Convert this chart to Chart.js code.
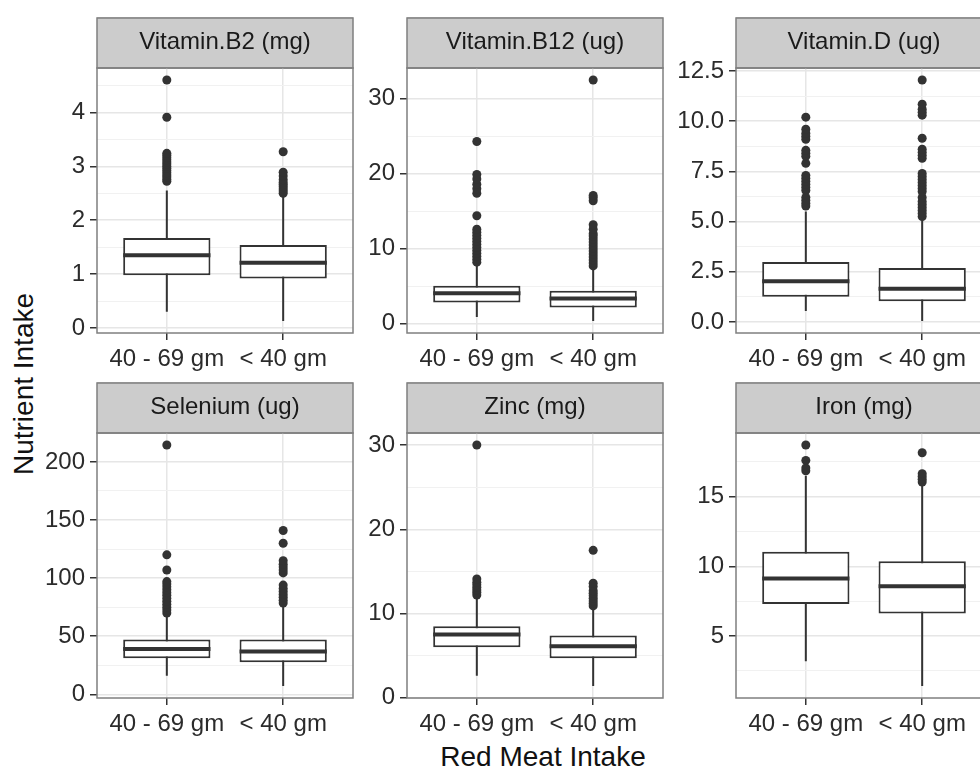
<!DOCTYPE html>
<html>
<head>
<meta charset="utf-8">
<title>Nutrient Intake by Red Meat Intake</title>
<script src="https://cdn.jsdelivr.net/npm/chart.js@4.4.1/dist/chart.umd.min.js"></script>
<style>
  html, body { margin: 0; padding: 0; overflow: hidden; }
  body { width: 980px; height: 767px; position: relative; background: #fff; font-family: "Liberation Sans", Arial, sans-serif; }
  canvas { position: absolute; }
  .axis-title { position: absolute; font-size: 28px; color: #111; white-space: nowrap; line-height: 1; }
  #xTitle { left: 543px; top: 757px; transform: translate(-50%, -50%); }
  #yTitle { left: 24px; top: 384px; transform: translate(-50%, -50%) rotate(-90deg); }
</style>
</head>
<body>
<div id="xTitle" class="axis-title">Red Meat Intake</div>
<div id="yTitle" class="axis-title">Nutrient Intake</div>

<script>
// Kategori sumbu x (sama untuk semua panel)
const groups = ["40 - 69 gm", "< 40 gm"];

// ---- Vitamin.B2 (mg) ----
const b2Low = [0.30, 0.13];
const b2Q1 = [0.98, 0.92];
const b2Median = [1.35, 1.21];
const b2Q3 = [1.67, 1.54];
const b2High = [2.55, 2.45];
const b2OutA = [2.72, 2.76, 2.80, 2.84, 2.88, 2.92, 2.96, 3.00, 3.04, 3.08, 3.12, 3.16, 3.20, 3.24, 3.91, 4.60];
const b2OutB = [2.50, 2.54, 2.58, 2.62, 2.66, 2.70, 2.75, 2.82, 2.89, 3.27];
const b2Ticks = ["0", "1", "2", "3", "4"];

// ---- Vitamin.B12 (ug) ----
const b12Low = [0.9, 0.36];
const b12Q1 = [2.82, 2.15];
const b12Median = [4.07, 3.35];
const b12Q3 = [5.07, 4.38];
const b12High = [8.0, 7.5];
const b12OutA = [8.2, 8.6, 9.0, 9.4, 9.8, 10.2, 10.6, 11.0, 11.4, 11.8, 12.2, 12.6, 14.4, 17.4, 18.0, 18.6, 19.3, 19.9, 24.3];
const b12OutB = [7.7, 8.1, 8.5, 8.9, 9.3, 9.7, 10.1, 10.5, 10.9, 11.3, 11.7, 12.0, 12.6, 13.2, 16.4, 16.8, 17.1, 32.5];
const b12Ticks = ["0", "10", "20", "30"];

// ---- Vitamin.D (ug) ----
const dLow = [0.55, 0.05];
const dQ1 = [1.25, 1.03];
const dMedian = [2.03, 1.66];
const dQ3 = [2.99, 2.69];
const dHigh = [5.5, 5.1];
const dOutA = [5.77, 5.9, 6.05, 6.2, 6.55, 6.7, 6.85, 7.0, 7.15, 7.3, 7.9, 8.25, 8.4, 8.55, 9.1, 9.25, 9.4, 9.6, 10.2];
const dOutB = [5.25, 5.4, 5.55, 5.7, 5.85, 6.0, 6.2, 6.5, 6.65, 6.8, 6.95, 7.1, 7.25, 7.4, 8.15, 8.3, 8.45, 8.6, 9.15, 10.3, 10.45, 10.6, 10.85, 12.05];
const dTicks = ["0.0", "2.5", "5.0", "7.5", "10.0", "12.5"];

// ---- Selenium (ug) ----
const seLow = [16, 7.2];
const seQ1 = [31, 27.5];
const seMedian = [39, 36.8];
const seQ3 = [47.2, 47.2];
const seHigh = [68, 76.5];
const seOutA = [70, 72.5, 75, 77.5, 80, 82.5, 85, 87.5, 90, 92.5, 95, 97, 107, 120, 214.5];
const seOutB = [78.5, 81, 83.5, 86, 88.5, 91, 94, 104.5, 107, 109.5, 112, 115, 130, 141];
const seTicks = ["0", "50", "100", "150", "200"];

// ---- Zinc (mg) ----
const znLow = [2.6, 1.4];
const znQ1 = [6.0, 4.68];
const znMedian = [7.5, 6.12];
const znQ3 = [8.48, 7.4];
const znHigh = [11.9, 10.6];
const znOutA = [12.2, 12.5, 12.8, 13.1, 13.4, 13.7, 14.1, 30.0];
const znOutB = [10.9, 11.2, 11.5, 11.8, 12.1, 12.4, 12.7, 13.2, 13.6, 17.5];
const znTicks = ["0", "10", "20", "30"];

// ---- Iron (mg) ----
const feLow = [3.2, 1.42];
const feQ1 = [7.3, 6.62];
const feMedian = [9.12, 8.58];
const feQ3 = [11.05, 10.37];
const feHigh = [16.5, 15.9];
const feOutA = [16.85, 17.05, 17.6, 18.7];
const feOutB = [16.05, 16.25, 16.45, 16.65, 18.15];
const feTicks = ["5", "10", "15"];

// Tabel panel (facet_wrap, 3 kolom x 2 baris)
const panels = [
  { title: "Vitamin.B2 (mg)", low: b2Low, q1: b2Q1, median: b2Median, q3: b2Q3, high: b2High, outliers: [b2OutA, b2OutB], ticks: b2Ticks },
  { title: "Vitamin.B12 (ug)", low: b12Low, q1: b12Q1, median: b12Median, q3: b12Q3, high: b12High, outliers: [b12OutA, b12OutB], ticks: b12Ticks },
  { title: "Vitamin.D (ug)", low: dLow, q1: dQ1, median: dMedian, q3: dQ3, high: dHigh, outliers: [dOutA, dOutB], ticks: dTicks },
  { title: "Selenium (ug)", low: seLow, q1: seQ1, median: seMedian, q3: seQ3, high: seHigh, outliers: [seOutA, seOutB], ticks: seTicks },
  { title: "Zinc (mg)", low: znLow, q1: znQ1, median: znMedian, q3: znQ3, high: znHigh, outliers: [znOutA, znOutB], ticks: znTicks },
  { title: "Iron (mg)", low: feLow, q1: feQ1, median: feMedian, q3: feQ3, high: feHigh, outliers: [feOutA, feOutB], ticks: feTicks }
];

// Layout (piksel)
const PANEL_LEFT = [97, 407, 736];
const ROW_TOP = [17, 382];
const PANEL_W = 256;
const PANEL_H = 265;
const STRIP_H = 51;
const Y_AXIS_W = 80;
const X_AXIS_H = 46;
const RIGHT_PAD = 6;
const BOX_WIDTH = 0.75;

const INK = "#333333";
const TEXT = "#2b2b2b";
const FONT = '"Liberation Sans", Arial, sans-serif';

Chart.defaults.font.family = FONT;
Chart.defaults.animation = false;

// Strip abu-abu + bingkai panel
const panelFrame = {
  id: "panelFrame",
  beforeDraw(chart) {
    const { ctx, chartArea } = chart;
    const t = chart.titleBlock;
    ctx.save();
    ctx.fillStyle = "#cccccc";
    ctx.fillRect(chartArea.left, t.top, chartArea.width, t.height);
    ctx.strokeStyle = "#7f7f7f";
    ctx.lineWidth = 1.5;
    ctx.strokeRect(chartArea.left, t.top + 1, chartArea.width, t.height - 1);
    ctx.restore();
  },
  afterDraw(chart) {
    const { ctx, chartArea } = chart;
    ctx.save();
    ctx.strokeStyle = "#7f7f7f";
    ctx.lineWidth = 1.5;
    ctx.strokeRect(chartArea.left, chartArea.top, chartArea.width, chartArea.height);
    ctx.restore();
  }
};

panels.forEach((panel, idx) => {
  createPanel(panel, idx % 3, Math.floor(idx / 3));
});

function createPanel(panel, col, row) {
  const canvas = document.createElement("canvas");
  canvas.width = Y_AXIS_W + PANEL_W + RIGHT_PAD;
  canvas.height = STRIP_H + PANEL_H + X_AXIS_H;
  canvas.style.left = (PANEL_LEFT[col] - Y_AXIS_W) + "px";
  canvas.style.top = ROW_TOP[row] + "px";
  document.body.appendChild(canvas);

  // Rentang y seperti ggplot: data + 5% di kedua sisi
  const allOut = panel.outliers.flat();
  const dataMin = Math.min(...panel.low, ...allOut);
  const dataMax = Math.max(...panel.high, ...allOut);
  const pad = (dataMax - dataMin) * 0.05;
  const yMin = dataMin - pad;
  const yMax = dataMax + pad;

  // Garis mayor dan minor
  const majors = panel.ticks.map(t => parseFloat(t));
  const step = majors.length > 1 ? majors[1] - majors[0] : 1;
  const minors = [majors[0] - step / 2];
  majors.forEach(v => minors.push(v + step / 2));
  const gridValues = majors.concat(minors.filter(v => v > yMin && v < yMax)).sort((a, b) => a - b);
  const isMajor = v => majors.indexOf(v) >= 0;

  const whiskerData = [];
  const medianData = [];
  const boxData = [];
  const outlierData = [];
  groups.forEach((g, i) => {
    whiskerData.push({ x: i, y: panel.low[i] }, { x: i, y: panel.high[i] }, { x: i, y: null });
    medianData.push({ x: i - BOX_WIDTH / 2, y: panel.median[i] }, { x: i + BOX_WIDTH / 2, y: panel.median[i] }, { x: i, y: null });
    boxData.push({ x: i, y: [panel.q1[i], panel.q3[i]] });
    panel.outliers[i].forEach(v => outlierData.push({ x: i, y: v }));
  });

  new Chart(canvas, {
    type: "scatter",
    data: {
      datasets: [
        {
          type: "line",
          data: whiskerData,
          borderColor: INK,
          borderWidth: 2,
          pointRadius: 0,
          spanGaps: false,
          order: 4
        },
        {
          type: "bar",
          data: boxData,
          backgroundColor: "#ffffff",
          borderColor: INK,
          borderWidth: 2,
          borderSkipped: false,
          categoryPercentage: 1,
          barPercentage: BOX_WIDTH,
          order: 3
        },
        {
          type: "line",
          data: medianData,
          borderColor: INK,
          borderWidth: 4,
          borderCapStyle: "butt",
          pointRadius: 0,
          spanGaps: false,
          order: 2
        },
        {
          type: "scatter",
          data: outlierData,
          backgroundColor: INK,
          pointRadius: 4.5,
          pointBorderWidth: 0,
          order: 1
        }
      ]
    },
    options: {
      responsive: false,
      events: [],
      layout: { padding: { left: 0, top: 0, right: RIGHT_PAD, bottom: 0 } },
      plugins: {
        legend: { display: false },
        tooltip: { enabled: false },
        title: {
          display: true,
          text: panel.title,
          fullSize: false,
          color: "#1a1a1a",
          font: { size: 24, weight: "normal", lineHeight: 1.2 },
          padding: { top: 11, bottom: STRIP_H - 11 - 28.8 }
        }
      },
      scales: {
        x: {
          type: "linear",
          min: -0.6,
          max: groups.length - 0.4,
          bounds: "data",
          offset: false,
          afterBuildTicks: scale => { scale.ticks = groups.map((g, i) => ({ value: i })); },
          afterFit: scale => { scale.height = X_AXIS_H; },
          ticks: {
            callback: v => groups[v],
            autoSkip: false,
            maxRotation: 0,
            minRotation: 0,
            padding: 5,
            color: TEXT,
            font: { size: 24 }
          },
          grid: {
            offset: false,
            color: "#e6e6e6",
            lineWidth: 1.5,
            tickLength: 7,
            tickColor: INK,
            tickWidth: 1.5
          },
          border: { display: false }
        },
        y: {
          type: "linear",
          min: yMin,
          max: yMax,
          bounds: "data",
          afterBuildTicks: scale => { scale.ticks = gridValues.map(v => ({ value: v })); },
          afterFit: scale => { scale.width = Y_AXIS_W; },
          ticks: {
            callback: v => isMajor(v) ? panel.ticks[majors.indexOf(v)] : "",
            autoSkip: false,
            padding: 5,
            color: TEXT,
            font: { size: 24 }
          },
          grid: {
            color: ctx => isMajor(ctx.tick.value) ? "#e6e6e6" : "#f1f1f1",
            lineWidth: ctx => isMajor(ctx.tick.value) ? 1.5 : 1,
            tickLength: 7,
            tickColor: ctx => isMajor(ctx.tick.value) ? INK : "rgba(0,0,0,0)",
            tickWidth: 1.5
          },
          border: { display: false }
        }
      }
    },
    plugins: [panelFrame]
  });
}
</script>
</body>
</html>
